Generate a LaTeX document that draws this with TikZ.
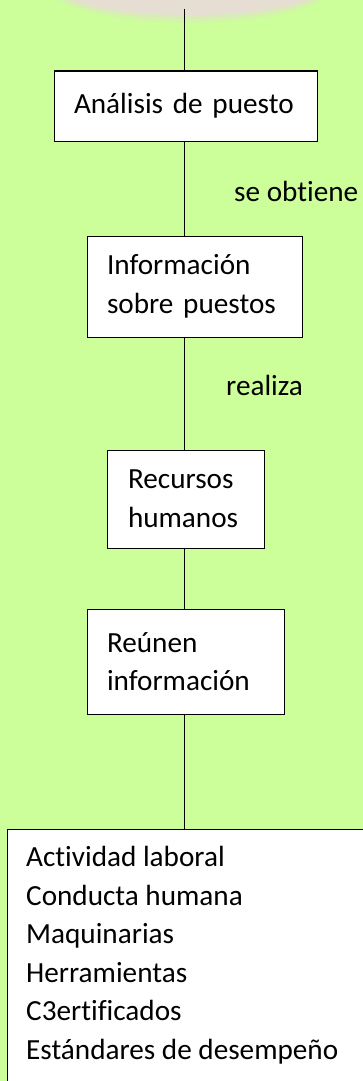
\documentclass[tikz,border=0pt]{standalone}
\usepackage{fontspec}
\setmainfont{Carlito}[Ligatures={NoCommon,NoContextual}, WordSpace={1,0,0}]
\definecolor{bgGreen}{HTML}{CCFF99}
\definecolor{glowPink}{HTML}{E6DDD3}
\tikzset{
  x=1pt, y=-1pt,
  stepbox/.style={draw=black, line width=1pt, fill=white, rectangle, align=left,
    inner xsep=20pt, inner ysep=0pt, font=\fontsize{29.2}{38.6}\selectfont},
  conn/.style={draw=black, line width=1pt},
  lbl/.style={anchor=west, inner sep=0pt, font=\fontsize{29.2}{38.6}\selectfont},
}
\begin{document}
\begin{tikzpicture}
\useasboundingbox (0,0) rectangle (363,1081);
\fill[bgGreen] (0,0) rectangle (363,1081);
% soft pinkish ellipse at the top
\fill[glowPink, opacity=0.25] (190,-18) ellipse [x radius=148, y radius=41];
\fill[glowPink, opacity=0.45] (190,-18) ellipse [x radius=144, y radius=37];
\fill[glowPink] (190,-18) ellipse [x radius=140, y radius=33];

\coordinate (top) at (184,9);

\node[stepbox, minimum width=263, minimum height=70, text width=223] (b1) at (185.5,106) {Análisis de puesto};
\node[stepbox, minimum width=215, minimum height=101, text width=175] (b2) at (194.5,286.5) {Información\\sobre puestos};
\node[stepbox, minimum width=157, minimum height=98, text width=115, inner xsep=21pt] (b3) at (185.5,499) {Recursos\\humanos};
\node[stepbox, minimum width=197, minimum height=105, text width=157] (b4) at (185.5,661.5) {Reúnen\\información};
\node[draw=black, line width=1pt, fill=white, minimum width=373, minimum height=271, inner sep=0pt] (b5) at (193.5,964.5) {};
\node[anchor=north west, align=left, inner sep=0pt, font=\fontsize{29.2}{38.6}\selectfont] (items) at (26,846)
  {Actividad laboral\\Conducta humana\\Maquinarias\\Herramientas\\C3ertificados\\Estándares de desempeño};

\draw[conn] (top) -- (b1.north -| top);
\draw[conn] (b1.south -| top) -- (b2.north -| top);
\draw[conn] (b2.south -| top) -- (b3.north -| top);
\draw[conn] (b3.south -| top) -- (b4.north -| top);
\draw[conn] (b4.south -| top) -- (b5.north -| top);

\node[lbl] (l1) at (234,191) {se obtiene};
\node[lbl] (l2) at (226,385.5) {realiza};
\end{tikzpicture}
\end{document}
